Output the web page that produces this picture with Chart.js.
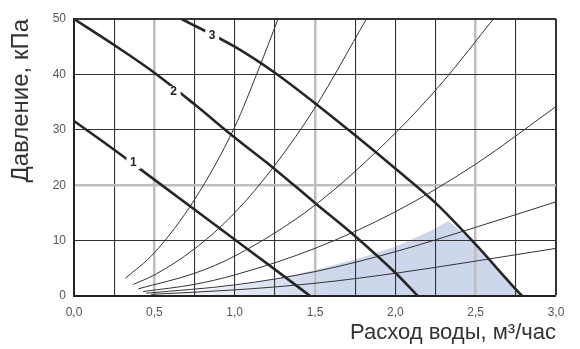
<!DOCTYPE html>
<html>
<head>
<meta charset="utf-8">
<script src="https://cdn.jsdelivr.net/npm/chart.js@4.4.1/dist/chart.umd.min.js"></script>
<style>
  body { margin: 0; background: #fff; }
  canvas { display: block; }
</style>
</head>
<body>
<canvas id="pumpChart" width="580" height="349"></canvas>
<script>
// pump curves (thick lines), [flow m3/h, pressure kPa]
const pump1 = [[0, 31.6], [0.25, 26.4], [0.5, 21.0], [0.75, 15.6], [1.0, 10.2], [1.25, 4.8], [1.47, 0]];
const pump2 = [[0, 50], [0.25, 45.3], [0.5, 40.3], [0.75, 34.6], [1.0, 28.6], [1.25, 22.9], [1.5, 16.8], [1.75, 10.8], [2.0, 4.2], [2.14, 0]];
const pump3 = [[0.67, 50], [1.0, 45.0], [1.25, 40.3], [1.5, 34.8], [1.75, 29.0], [2.0, 23.0], [2.25, 16.8], [2.5, 9.3], [2.75, 1.2], [2.79, 0]];

// system curves (thin lines)
const sysA = [[0.32, 3.2], [0.5, 7.8], [0.75, 17.4], [1.0, 30.5], [1.15, 41.0], [1.27, 50]];
const sysB = [[0.37, 2.1], [0.5, 3.8], [0.75, 8.5], [1.0, 15.0], [1.25, 23.6], [1.5, 34.0], [1.82, 50]];
const sysC = [[0.40, 1.3], [0.75, 4.1], [1.0, 7.2], [1.5, 16.4], [2.0, 29.4], [2.3, 38.8], [2.61, 50]];
const sysD = [[0.43, 0.8], [0.75, 2.1], [1.0, 3.8], [1.5, 8.6], [2.0, 15.2], [2.5, 23.8], [3.0, 34.2]];
const sysE = [[0.45, 0.5], [1.0, 2.0], [1.5, 4.4], [2.0, 8.0], [2.5, 12.4], [3.0, 17.0]];
const sysF = [[0.48, 0.3], [1.0, 1.1], [1.5, 2.3], [2.0, 4.1], [2.5, 6.3], [3.0, 8.6]];

// working zone (blue)
const zone = [[0.45, 0], [0.75, 0.9], [1.0, 1.8], [1.25, 3.1], [1.5, 4.7], [1.75, 6.6], [2.0, 8.9], [2.25, 12.2], [2.33, 13.6], [2.5, 9.3], [2.75, 1.2], [2.79, 0]];

const curveNames = ['1', '2', '3'];
const curveLabelAt = [[0.37, 24.0], [0.62, 36.8], [0.86, 46.9]];

const xTickStep = 0.25;
const yTickStep = 10;

function pts(arr) { return arr.map(p => ({ x: p[0], y: p[1] })); }

const thick = { borderColor: '#262626', borderWidth: 2.6, pointRadius: 0, showLine: true, cubicInterpolationMode: 'monotone', fill: false };
const thin = { borderColor: '#333', borderWidth: 1, pointRadius: 0, showLine: true, cubicInterpolationMode: 'monotone', fill: false };

const curveLabels = {
  id: 'curveLabels',
  afterDatasetsDraw(chart) {
    const c = chart.ctx;
    const xs = chart.scales.x, ys = chart.scales.y;
    c.save();
    c.font = 'bold 12px "Liberation Sans", Arial, sans-serif';
    c.textAlign = 'center';
    c.textBaseline = 'middle';
    curveNames.forEach((t, i) => {
      const px = xs.getPixelForValue(curveLabelAt[i][0]);
      const py = ys.getPixelForValue(curveLabelAt[i][1]);
      c.fillStyle = '#fff';
      c.fillRect(px - 7, py - 6, 14, 12);
      c.fillStyle = '#222';
      c.fillText(t, px, py);
    });
    c.restore();
  }
};

const ctx = document.getElementById('pumpChart').getContext('2d');
const pumpChart = new Chart(ctx, {
  type: 'scatter',
  data: {
    datasets: [
      Object.assign({}, thick, { data: pts(pump1) }),
      Object.assign({}, thick, { data: pts(pump2) }),
      Object.assign({}, thick, { data: pts(pump3) }),
      Object.assign({}, thin, { data: pts(sysA) }),
      Object.assign({}, thin, { data: pts(sysB) }),
      Object.assign({}, thin, { data: pts(sysC) }),
      Object.assign({}, thin, { data: pts(sysD) }),
      Object.assign({}, thin, { data: pts(sysE) }),
      Object.assign({}, thin, { data: pts(sysF) }),
      {
        data: pts(zone),
        showLine: true,
        borderWidth: 0,
        borderColor: 'rgba(0,0,0,0)',
        pointRadius: 0,
        tension: 0,
        fill: 'origin',
        order: 10,
        backgroundColor: function (context) {
          const area = context.chart.chartArea;
          if (!area) return 'rgb(205,215,236)';
          const xs = context.chart.scales.x;
          const g = context.chart.ctx.createLinearGradient(xs.getPixelForValue(0.5), 0, xs.getPixelForValue(1.6), 0);
          g.addColorStop(0, 'rgba(205,215,236,0.15)');
          g.addColorStop(1, 'rgba(205,215,236,1)');
          return g;
        }
      }
    ]
  },
  options: {
    responsive: false,
    animation: false,
    layout: { padding: { top: 19, right: 24, left: 0, bottom: 0 } },
    plugins: {
      legend: { display: false },
      tooltip: { enabled: false },
      filler: { drawTime: 'beforeDraw' }
    },
    scales: {
      x: {
        type: 'linear',
        min: 0,
        max: 3,
        afterFit: function (scale) { scale.height = 53; },
        border: { display: true, color: '#222', width: 2 },
        grid: {
          drawTicks: false,
          color: function (c) {
            const v = Math.round(c.tick.value * 100) / 100;
            return (v === 0.5 || v === 1.5 || v === 2.5) ? '#bebebe' : '#333';
          },
          lineWidth: function (c) {
            const v = Math.round(c.tick.value * 100) / 100;
            if (v === 0.5 || v === 1.5 || v === 2.5) return 2.5;
            if (v === 3) return 2;
            return 1.1;
          }
        },
        ticks: {
          stepSize: xTickStep,
          autoSkip: false,
          maxRotation: 0,
          padding: 9,
          color: '#555',
          font: { family: '"Liberation Sans Narrow", "Liberation Sans", Arial, sans-serif', size: 12 },
          callback: function (v) {
            const r = Math.round(v * 100) / 100;
            if (Math.abs(r * 2 - Math.round(r * 2)) > 1e-6) return '';
            return r.toFixed(1).replace('.', ',');
          }
        },
        title: {
          display: true,
          text: 'Расход воды, м³/час',
          align: 'end',
          color: '#333',
          font: { family: '"Liberation Sans", Arial, sans-serif', size: 22 },
          padding: { top: 0, bottom: 3 }
        }
      },
      y: {
        min: 0,
        max: 50,
        afterFit: function (scale) { scale.width = 74; },
        border: { display: true, color: '#222', width: 2 },
        grid: {
          drawTicks: false,
          color: function (c) { return c.tick.value === 20 ? '#bebebe' : '#333'; },
          lineWidth: function (c) {
            if (c.tick.value === 20) return 2.5;
            if (c.tick.value === 50) return 2;
            return 1.1;
          }
        },
        ticks: {
          stepSize: yTickStep,
          padding: 8,
          color: '#555',
          font: { family: '"Liberation Sans Narrow", "Liberation Sans", Arial, sans-serif', size: 12 }
        },
        title: {
          display: true,
          text: 'Давление, кПа',
          align: 'end',
          color: '#333',
          font: { family: '"Liberation Sans", Arial, sans-serif', size: 24 },
          padding: { top: 7, bottom: 0 }
        }
      }
    }
  },
  plugins: [curveLabels]
});
</script>
</body>
</html>
